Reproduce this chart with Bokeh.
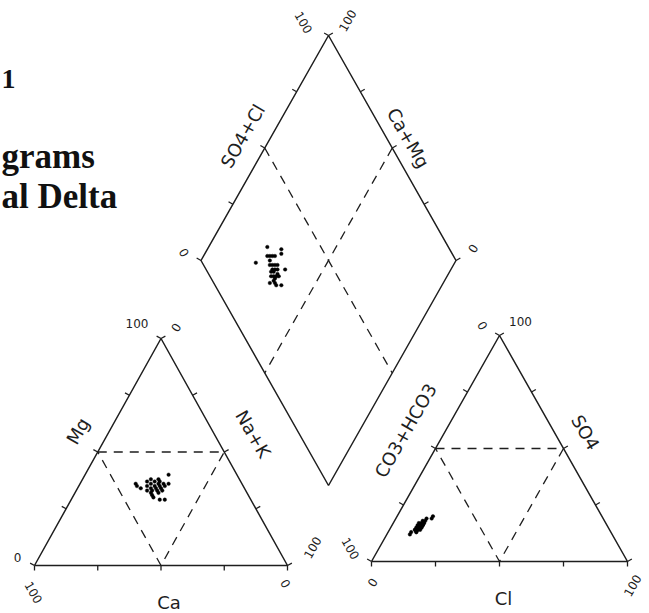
import math
from bokeh.plotting import figure
from bokeh.models import Range1d, Label
from bokeh.embed import file_html
from bokeh.resources import INLINE

# ---- sample chemistry (percent of total meq/l) ----
# cations
ca  = [42, 41, 37, 38, 39, 36, 35, 37, 35, 37, 34, 33, 35, 38, 33,
       35, 32, 31, 33, 35, 31, 33, 32, 38, 36, 38, 27, 34, 42, 29]
mg  = [36, 34, 37, 35, 33, 36, 38, 34, 35, 33, 37, 36, 34, 32, 35,
       33, 37, 36, 34, 32, 35, 33, 38, 31, 29, 30, 40, 29, 35, 36]
nak = [22, 25, 26, 27, 28, 28, 27, 29, 30, 30, 29, 31, 31, 30, 32,
       32, 31, 33, 33, 33, 34, 34, 30, 31, 35, 32, 33, 37, 23, 35]
# anions
hco3 = [79, 73, 72, 71, 70, 74, 73, 66, 72, 75, 73, 71, 74, 67, 72,
        75, 76, 73, 76, 74, 73, 76, 74, 73, 76, 78, 75, 74, 71, 69]
so4  = [12, 16, 16, 17, 18, 15, 15, 20, 17, 14, 16, 17, 15, 19, 16,
        15, 14, 15, 13, 14, 16, 14, 16, 17, 13, 13, 14, 15, 18, 19]
cl   = [9, 11, 12, 12, 12, 11, 12, 14, 11, 11, 11, 12, 11, 14, 12,
        10, 10, 12, 11, 12, 11, 10, 10, 10, 11, 9, 11, 11, 11, 12]

TICK_FRACTIONS = [0.0, 0.25, 0.5, 0.75, 1.0]

# ---- page layout (screen pixels, y grows downward) ----
W, H = 649, 613
CAT = dict(x0=34.0, y0=565.0, w=253.0, h=227.0)   # cation triangle
AN = dict(x0=371.0, y0=561.0, w=256.0, h=226.0)   # anion triangle
DIA = dict(bx=328.0, by=485.0, hw=127.5, hh=225.0)  # diamond, from bottom vertex

INK = "#1e1e1e"
LABEL_FONT = "DejaVu Sans"
TITLE_FONT = "Liberation Serif"


def tri_vertices(t):
    bl = (t["x0"], t["y0"])
    br = (t["x0"] + t["w"], t["y0"])
    ap = (t["x0"] + t["w"] / 2, t["y0"] - t["h"])
    return bl, br, ap


def tri_point(t, right_pct, top_pct):
    """Position inside a triangle from the bottom-right and apex components."""
    r, a = right_pct / 100.0, top_pct / 100.0
    return t["x0"] + t["w"] * (r + a / 2), t["y0"] - t["h"] * a


def diamond_point(camg_pct, so4cl_pct):
    a, c = camg_pct / 100.0, so4cl_pct / 100.0
    return (DIA["bx"] + DIA["hw"] * (c - a), DIA["by"] - DIA["hh"] * (a + c))


def lerp(p, q, f):
    return (p[0] + (q[0] - p[0]) * f, p[1] + (q[1] - p[1]) * f)


def mid(p, q):
    return lerp(p, q, 0.5)


def ticks(p, q, centre, length=5.0):
    """Short outward ticks along edge p->q at the standard fractions."""
    dx, dy = q[0] - p[0], q[1] - p[1]
    n = math.hypot(dx, dy)
    nx, ny = -dy / n, dx / n
    m = mid(p, q)
    if (centre[0] - m[0]) * nx + (centre[1] - m[1]) * ny > 0:
        nx, ny = -nx, -ny
    xs, ys = [], []
    for f in TICK_FRACTIONS:
        s = lerp(p, q, f)
        xs.append([s[0], s[0] + nx * length])
        ys.append([s[1], s[1] + ny * length])
    return xs, ys


p = figure(width=W, height=H, x_range=Range1d(0, W), y_range=Range1d(H, 0),
           output_backend="svg", toolbar_location=None,
           x_axis_location=None, y_axis_location=None,
           min_border=0, outline_line_color=None,
           background_fill_color="white", border_fill_color="white")
p.xgrid.visible = False
p.ygrid.visible = False

solid_x, solid_y = [], []
dash_x, dash_y = [], []
tick_x, tick_y = [], []

# ---- the two triangles ----
for t in (CAT, AN):
    bl, br, ap = tri_vertices(t)
    cen = ((bl[0] + br[0] + ap[0]) / 3, (bl[1] + br[1] + ap[1]) / 3)
    solid_x.append([bl[0], br[0], ap[0], bl[0]])
    solid_y.append([bl[1], br[1], ap[1], bl[1]])
    for e0, e1 in ((bl, br), (bl, ap), (ap, br)):
        tx, ty = ticks(e0, e1, cen)
        tick_x += tx
        tick_y += ty
    ml, mr, mb = mid(bl, ap), mid(ap, br), mid(bl, br)
    dash_x.append([ml[0], mr[0], mb[0], ml[0]])
    dash_y.append([ml[1], mr[1], mb[1], ml[1]])

# ---- the diamond ----
B = diamond_point(0, 0)
L = diamond_point(100, 0)
R = diamond_point(0, 100)
T = diamond_point(100, 100)
dcen = ((L[0] + R[0]) / 2, (B[1] + T[1]) / 2)
solid_x.append([B[0], L[0], T[0], R[0], B[0]])
solid_y.append([B[1], L[1], T[1], R[1], B[1]])
for e0, e1 in ((L, T), (T, R)):
    tx, ty = ticks(e0, e1, dcen)
    tick_x += tx
    tick_y += ty
for e0, e1 in ((mid(L, T), mid(B, R)), (mid(T, R), mid(B, L))):
    dash_x.append([e0[0], e1[0]])
    dash_y.append([e0[1], e1[1]])

p.multi_line(solid_x, solid_y, line_color=INK, line_width=1.5)
p.multi_line(tick_x, tick_y, line_color=INK, line_width=1.3)
p.multi_line(dash_x, dash_y, line_color=INK, line_width=1.3, line_dash="9 7")

# ---- samples ----
cat_pts = [tri_point(CAT, n, m) for n, m in zip(nak, mg)]
an_pts = [tri_point(AN, c, s) for c, s in zip(cl, so4)]
dia_pts = [diamond_point(c + m, s + l) for c, m, s, l in zip(ca, mg, so4, cl)]
xs = [q[0] for q in cat_pts + an_pts + dia_pts]
ys = [q[1] for q in cat_pts + an_pts + dia_pts]
p.scatter(x=xs, y=ys, size=3.6, marker="circle", fill_color="black",
          line_color="black", line_width=0.4)


# ---- labels ----
def label(text, anchor, dx, dy, size=12, angle=0.0):
    p.add_layout(Label(x=anchor[0] + dx, y=anchor[1] + dy, text=text,
                       text_font=LABEL_FONT, text_font_size=f"{size}px",
                       text_color=INK, text_align="center",
                       text_baseline="middle", angle=math.radians(angle)))


cbl, cbr, cap = tri_vertices(CAT)
label("100", cap, -24, -15)
label("0", cap, 15, -11, angle=60)
label("Mg", mid(cbl, cap), -20, -21, size=18, angle=60)
label("Na+K", mid(cap, cbr), 29, -18, size=18, angle=-60)
label("0", cbl, -17, -8)
label("100", cbl, -1, 27, angle=-60)
label("0", cbr, -2, 18, angle=-60)
label("100", cbr, 25, -18, angle=60)
label("Ca", mid(cbl, cbr), 8, 37, size=18)

abl, abr, aap = tri_vertices(AN)
label("0", aap, -17, -10, angle=-60)
label("100", aap, 21, -14)
label("CO3+HCO3", mid(abl, aap), -30, -18, size=18, angle=60)
label("SO4", mid(aap, abr), 22, -16, size=18, angle=-60)
label("100", abl, -21, -13, angle=-60)
label("0", abl, 1, 21, angle=60)
label("100", abr, 5, 24, angle=60)
label("Cl", mid(abl, abr), 4, 37, size=18)

label("100", T, -25, -13, angle=-60)
label("100", T, 19, -15, angle=60)
label("0", L, -17, -8, angle=-60)
label("0", R, 17, -12, angle=60)
label("SO4+Cl", mid(L, T), -22, -12, size=18, angle=60)
label("Ca+Mg", mid(T, R), 16, -10, size=18, angle=-60)


# ---- caption lines at the left margin ----
def caption(text, x, y, size):
    p.add_layout(Label(x=x, y=y, text=text, text_font=TITLE_FONT,
                       text_font_size=f"{size}px", text_font_style="bold",
                       text_color="#111111", text_align="left",
                       text_baseline="alphabetic"))


caption("1", 1, 78, 28)
caption("grams", 1, 156, 35)
caption("al Delta", 1, 196, 35)

open("out.html", "w").write(file_html(p, INLINE))
